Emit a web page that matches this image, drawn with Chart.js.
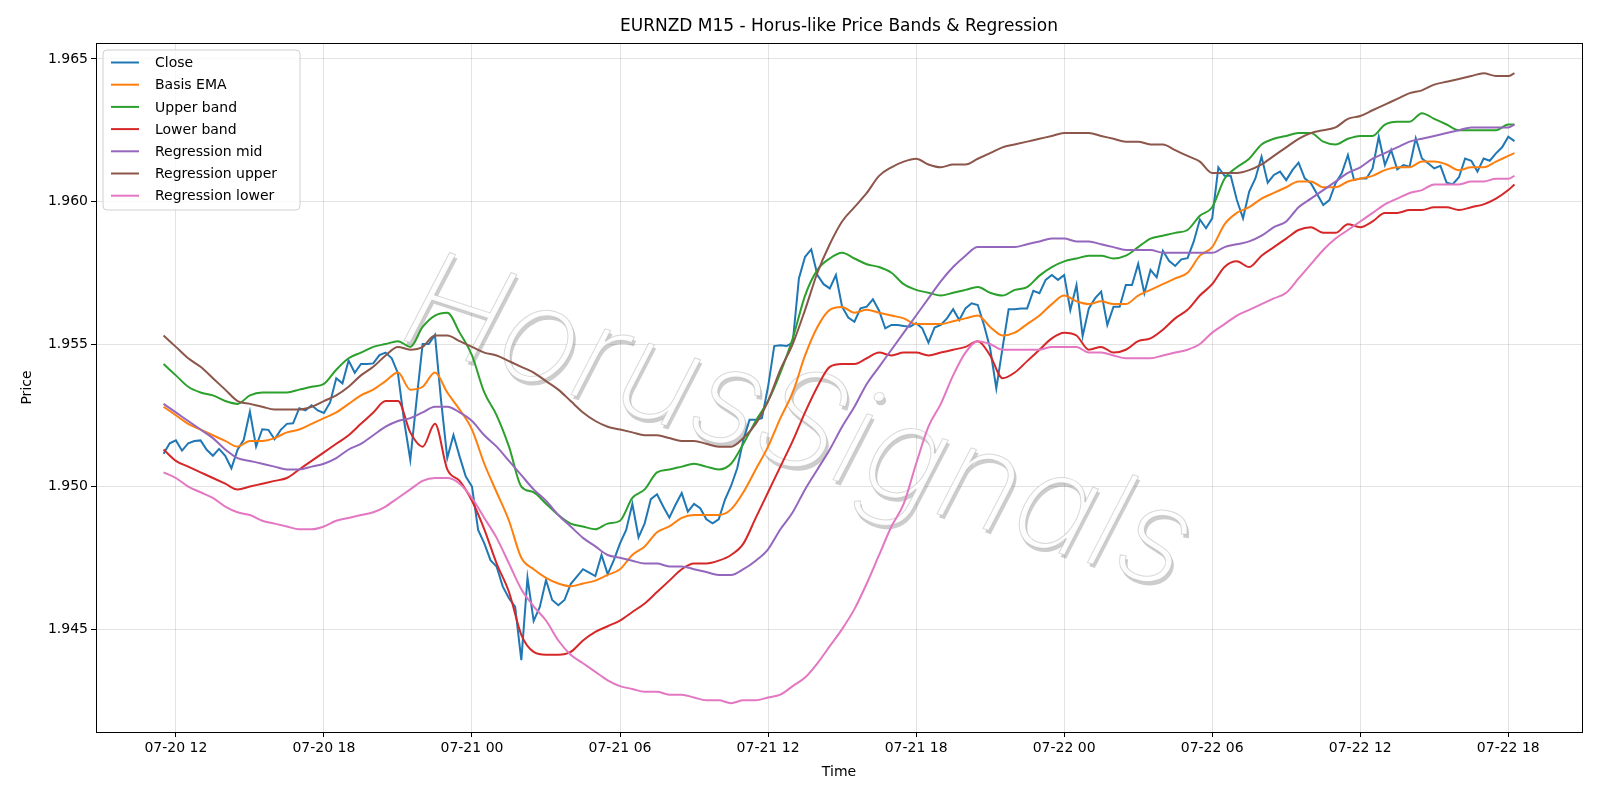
<!DOCTYPE html>
<html>
<head>
<meta charset="utf-8">
<script src="https://cdn.jsdelivr.net/npm/chart.js@4.4.1/dist/chart.umd.min.js"></script>
<style>
html, body { margin: 0; padding: 0; background: #fff; }
</style>
</head>
<body>
<canvas id="chart" width="1600" height="800"></canvas>
<script>
// time axis is in hours since 07-20 00:00
const FONT = '"DejaVu Sans", sans-serif';
const TITLE = 'EURNZD M15 - Horus-like Price Bands & Regression';
const WATERMARK = 'HorusSignals';

const xTickHours = [12, 18, 24, 30, 36, 42, 48, 54, 60, 66];
const xTickLabels = ['07-20 12', '07-20 18', '07-21 00', '07-21 06', '07-21 12',
                     '07-21 18', '07-22 00', '07-22 06', '07-22 12', '07-22 18'];
const yTicks = [1.945, 1.950, 1.955, 1.960, 1.965];

// M15 closes, first bar 07-20 11:30
const closeStart = 11.5;
const closeValues = [
  1.95115, 1.95152, 1.95162, 1.95126, 1.95152, 1.95160, 1.95162, 1.95129, 1.95108, 1.95132,
  1.95108, 1.95064, 1.95129, 1.95164, 1.95263, 1.95140, 1.95201, 1.95199, 1.95166, 1.95199,
  1.95220, 1.95222, 1.95275, 1.95267, 1.95285, 1.95267, 1.95258, 1.95295, 1.95380, 1.95362,
  1.95442, 1.95399, 1.95430, 1.95430, 1.95432, 1.95461, 1.95470, 1.95450, 1.95397, 1.95230,
  1.95094, 1.95300, 1.95500, 1.95500, 1.95532, 1.95300, 1.95100, 1.95181, 1.95105, 1.95035,
  1.95000, 1.94848, 1.94801, 1.94742, 1.94719, 1.94649, 1.94608, 1.94578, 1.94391, 1.94680,
  1.94529, 1.94578, 1.94672, 1.94602, 1.94584, 1.94602, 1.94658, 1.94684, 1.94710, 1.94698,
  1.94686, 1.94760, 1.94693, 1.94742, 1.94801, 1.94848, 1.94939, 1.94822, 1.94871, 1.94956,
  1.94973, 1.94930, 1.94891, 1.94936, 1.94977, 1.94912, 1.94939, 1.94924, 1.94885, 1.94871,
  1.94885, 1.94953, 1.95002, 1.95064, 1.95164, 1.95234, 1.95234, 1.95240, 1.95350, 1.95493,
  1.95496, 1.95493, 1.95505, 1.95730, 1.95806, 1.95832, 1.95742, 1.95710, 1.95695, 1.95742,
  1.95631, 1.95593, 1.95578, 1.95625, 1.95631, 1.95657, 1.95617, 1.95555, 1.95567, 1.95567,
  1.95563, 1.95561, 1.95573, 1.95555, 1.95505, 1.95558, 1.95567, 1.95590, 1.95622, 1.95584,
  1.95625, 1.95643, 1.95637, 1.95567, 1.95485, 1.95344, 1.95485, 1.95622, 1.95622, 1.95625,
  1.95625, 1.95687, 1.95678, 1.95725, 1.95742, 1.95725, 1.95742, 1.95619, 1.95707, 1.95528,
  1.95625, 1.95660, 1.95684, 1.95567, 1.95631, 1.95631, 1.95707, 1.95707, 1.95781, 1.95678,
  1.95760, 1.95734, 1.95827, 1.95792, 1.95774, 1.95797, 1.95801, 1.95859, 1.95937, 1.95906,
  1.95941, 1.96120, 1.96090, 1.96090, 1.96005, 1.95941, 1.96035, 1.96081, 1.96157, 1.96066,
  1.96093, 1.96105, 1.96075, 1.96110, 1.96136, 1.96081, 1.96064, 1.96026, 1.95988, 1.96005,
  1.96064, 1.96099, 1.96163, 1.96075, 1.96081, 1.96081, 1.96116, 1.96227, 1.96128, 1.96181,
  1.96113, 1.96128, 1.96122, 1.96222, 1.96151, 1.96134, 1.96116, 1.96125, 1.96066, 1.96061,
  1.96085, 1.96151, 1.96143, 1.96105, 1.96151, 1.96143, 1.96169, 1.96190, 1.96227, 1.96212
];

// band readings every 30 min from 11:30, plus the last bar at 18:15 on 07-22
const bandTimes = [];
for (let h = 11.5; h <= 66; h += 0.5) bandTimes.push(h);
bandTimes.push(66.25);

const basisEma = [
  1.9528, 1.9525, 1.9522, 1.9520, 1.9518, 1.9516, 1.9514, 1.9516, 1.9516, 1.9517,
  1.9519, 1.9520, 1.9522, 1.9524, 1.9526, 1.9529, 1.9532, 1.9534, 1.9537, 1.9540,
  1.9534, 1.9535, 1.9540, 1.9533, 1.9527, 1.9520, 1.9508, 1.9498, 1.9488, 1.9475,
  1.9471, 1.9468, 1.9466, 1.9465, 1.9466, 1.9467, 1.9469, 1.9471, 1.9476, 1.9479,
  1.9484, 1.9486, 1.9489, 1.9490, 1.9490, 1.9490, 1.9492, 1.9498, 1.9506, 1.9514,
  1.9524, 1.9533, 1.9546, 1.9556, 1.9562, 1.9563, 1.9561, 1.9562, 1.9561, 1.9560,
  1.9559, 1.9557, 1.9557, 1.9557, 1.9558, 1.9559, 1.9560, 1.9556, 1.9553, 1.9554,
  1.9557, 1.9560, 1.9564, 1.9567, 1.9565, 1.9564, 1.9565, 1.9564, 1.9564, 1.9567,
  1.9569, 1.9571, 1.9573, 1.9575, 1.9581, 1.9584, 1.9592, 1.9596, 1.9598, 1.9601,
  1.9603, 1.9605, 1.9607, 1.9607, 1.9605, 1.9605, 1.9607, 1.9608, 1.9609, 1.9611,
  1.9612, 1.9612, 1.9614, 1.9614, 1.9613, 1.9611, 1.9612, 1.9612, 1.9614, 1.9616,
  1.9617
];
const upperBand = [
  1.9543, 1.9539, 1.9535, 1.9533, 1.9532, 1.9530, 1.9529, 1.9532, 1.9533, 1.9533,
  1.9533, 1.9534, 1.9535, 1.9536, 1.9541, 1.9545, 1.9547, 1.9549, 1.9550, 1.9551,
  1.9549, 1.9556, 1.9560, 1.9561, 1.9554, 1.9546, 1.9533, 1.9525, 1.9514, 1.9500,
  1.9498, 1.9494, 1.9490, 1.9487, 1.9486, 1.9485, 1.9487, 1.9488, 1.9496, 1.9499,
  1.9505, 1.9506, 1.9507, 1.9508, 1.9507, 1.9506, 1.9508, 1.9515, 1.9523, 1.9530,
  1.9540, 1.9552, 1.9567, 1.9576, 1.9580, 1.9582, 1.9580, 1.9578, 1.9577, 1.9575,
  1.9571, 1.9569, 1.9568, 1.9567, 1.9568, 1.9569, 1.9570, 1.9568, 1.9567, 1.9569,
  1.9570, 1.9574, 1.9577, 1.9579, 1.9580, 1.9581, 1.9581, 1.9580, 1.9581, 1.9584,
  1.9587, 1.9588, 1.9589, 1.9590, 1.9595, 1.9598, 1.9608, 1.9612, 1.9615, 1.9620,
  1.9622, 1.9623, 1.9624, 1.9624, 1.9621, 1.9620, 1.9622, 1.9623, 1.9623, 1.9627,
  1.9628, 1.9628, 1.9631, 1.9629, 1.9627, 1.9625, 1.9625, 1.9625, 1.9625, 1.9627,
  1.9627
];
const lowerBand = [
  1.9513, 1.9509, 1.9507, 1.9505, 1.9503, 1.9501, 1.9499, 1.9500, 1.9501, 1.9502,
  1.9503, 1.9506, 1.9509, 1.9512, 1.9515, 1.9518, 1.9522, 1.9526, 1.9530, 1.9530,
  1.9519, 1.9514, 1.9522, 1.9506, 1.9502, 1.9495, 1.9485, 1.9473, 1.9463, 1.9448,
  1.9442, 1.9441, 1.9441, 1.9442, 1.9446, 1.9449, 1.9451, 1.9453, 1.9456, 1.9459,
  1.9463, 1.9467, 1.9471, 1.9473, 1.9473, 1.9474, 1.9476, 1.9480, 1.9489, 1.9498,
  1.9507, 1.9516, 1.9526, 1.9535, 1.9542, 1.9543, 1.9543, 1.9545, 1.9547, 1.9546,
  1.9547, 1.9547, 1.9546, 1.9547, 1.9548, 1.9549, 1.9551, 1.9546, 1.9538, 1.9540,
  1.9544, 1.9548, 1.9552, 1.9554, 1.9553, 1.9548, 1.9549, 1.9547, 1.9548, 1.9551,
  1.9552, 1.9555, 1.9559, 1.9562, 1.9567, 1.9571, 1.9577, 1.9579, 1.9577, 1.9581,
  1.9584, 1.9587, 1.9590, 1.9591, 1.9589, 1.9589, 1.9592, 1.9591, 1.9593, 1.9596,
  1.9596, 1.9597, 1.9597, 1.9598, 1.9598, 1.9597, 1.9598, 1.9599, 1.9601, 1.9604,
  1.9606
];
const regMid = [
  1.9529, 1.9526, 1.9523, 1.9520, 1.9517, 1.9513, 1.9510, 1.9509, 1.9508, 1.9507,
  1.9506, 1.9506, 1.9507, 1.9508, 1.9510, 1.9513, 1.9515, 1.9518, 1.9521, 1.9523,
  1.9524, 1.9526, 1.9528, 1.9528, 1.9526, 1.9523, 1.9518, 1.9514, 1.9509, 1.9504,
  1.9499, 1.9495, 1.9490, 1.9486, 1.9482, 1.9479, 1.9476, 1.9475, 1.9474, 1.9473,
  1.9473, 1.9472, 1.9472, 1.9471, 1.9470, 1.9469, 1.9469, 1.9471, 1.9474, 1.9478,
  1.9485, 1.9491, 1.9499, 1.9506, 1.9513, 1.9521, 1.9528, 1.9536, 1.9542, 1.9548,
  1.9554, 1.9560, 1.9566, 1.9572, 1.9577, 1.9581, 1.9584, 1.9584, 1.9584, 1.9584,
  1.9585, 1.9586, 1.9587, 1.9587, 1.9586, 1.9586, 1.9585, 1.9584, 1.9583, 1.9583,
  1.9583, 1.9582, 1.9582, 1.9582, 1.9582, 1.9582, 1.9584, 1.9585, 1.9586, 1.9588,
  1.9591, 1.9593, 1.9598, 1.9601, 1.9604, 1.9607, 1.9610, 1.9612, 1.9615, 1.9617,
  1.9619, 1.9621, 1.9622, 1.9623, 1.9624, 1.9625, 1.9626, 1.9626, 1.9626, 1.9626,
  1.9627
];
const regUpper = [
  1.9553, 1.9549, 1.9545, 1.9542, 1.9538, 1.9534, 1.9530, 1.9529, 1.9528, 1.9527,
  1.9527, 1.9527, 1.9528, 1.9530, 1.9532, 1.9535, 1.9539, 1.9542, 1.9546, 1.9549,
  1.9548, 1.9549, 1.9553, 1.9553, 1.9551, 1.9549, 1.9547, 1.9546, 1.9544, 1.9542,
  1.9540, 1.9537, 1.9534, 1.9530, 1.9526, 1.9523, 1.9521, 1.9520, 1.9519, 1.9518,
  1.9518, 1.9517, 1.9516, 1.9516, 1.9515, 1.9514, 1.9514, 1.9517, 1.9522, 1.9530,
  1.9541, 1.9550, 1.9562, 1.9575, 1.9585, 1.9593, 1.9598, 1.9603, 1.9609, 1.9612,
  1.9614, 1.9615, 1.9613, 1.9612, 1.9613, 1.9613, 1.9615, 1.9617, 1.9619, 1.9620,
  1.9621, 1.9622, 1.9623, 1.9624, 1.9624, 1.9624, 1.9623, 1.9622, 1.9621, 1.9621,
  1.9620, 1.9620, 1.9618, 1.9616, 1.9614, 1.9610, 1.9610, 1.9610, 1.9611, 1.9613,
  1.9616, 1.9619, 1.9622, 1.9624, 1.9625, 1.9626, 1.9629, 1.9630, 1.9632, 1.9634,
  1.9636, 1.9638, 1.9639, 1.9641, 1.9642, 1.9643, 1.9644, 1.9645, 1.9644, 1.9644,
  1.9645
];
const regLower = [
  1.9505, 1.9503, 1.9500, 1.9498, 1.9496, 1.9493, 1.9491, 1.9490, 1.9488, 1.9487,
  1.9486, 1.9485, 1.9485, 1.9486, 1.9488, 1.9489, 1.9490, 1.9491, 1.9493, 1.9496,
  1.9499, 1.9502, 1.9503, 1.9503, 1.9501, 1.9496, 1.9489, 1.9482, 1.9473, 1.9464,
  1.9458, 1.9453, 1.9446, 1.9441, 1.9438, 1.9435, 1.9432, 1.9430, 1.9429, 1.9428,
  1.9428, 1.9427, 1.9427, 1.9426, 1.9425, 1.9425, 1.9424, 1.9425, 1.9425, 1.9426,
  1.9427, 1.9430, 1.9433, 1.9438, 1.9444, 1.9450, 1.9457, 1.9466, 1.9476, 1.9486,
  1.9494, 1.9508, 1.9521, 1.9529, 1.9539, 1.9547, 1.9551, 1.9550, 1.9548, 1.9548,
  1.9548, 1.9548, 1.9549, 1.9549, 1.9549, 1.9547, 1.9547, 1.9546, 1.9545, 1.9545,
  1.9545, 1.9546, 1.9547, 1.9548, 1.9550, 1.9554, 1.9557, 1.9560, 1.9562, 1.9564,
  1.9566, 1.9568, 1.9573, 1.9578, 1.9583, 1.9587, 1.9590, 1.9593, 1.9596, 1.9599,
  1.9601, 1.9603, 1.9604, 1.9606, 1.9606, 1.9606, 1.9607, 1.9607, 1.9608, 1.9608,
  1.9609
];

const closeTimes = closeValues.map((_, i) => closeStart + i * 0.25);
const pts = (times, vals) => vals.map((v, i) => ({ x: times[i], y: v }));

function line(label, color, data, order, smooth) {
    return {
        label: label,
        data: data,
        borderColor: color,
        backgroundColor: color,
        borderWidth: 2,
        pointRadius: 0,
        fill: false,
        order: order,
        cubicInterpolationMode: smooth ? 'monotone' : 'default',
        tension: 0
    };
}

// frame, watermark, title and the in-axes legend
const decor = {
    id: 'decor',
    beforeDatasetsDraw(chart) {
        const ctx = chart.ctx;
        ctx.save();
        ctx.translate(798, 426);
        ctx.rotate(18 * Math.PI / 180);
        ctx.font = 'italic 200 134px Inter, "DejaVu Sans", sans-serif';
        ctx.textAlign = 'center';
        ctx.textBaseline = 'middle';
        ctx.fillStyle = 'rgba(90,90,90,0.30)';
        ctx.fillText(WATERMARK, 3, 3);
        ctx.fillStyle = 'rgba(255,255,255,0.95)';
        ctx.fillText(WATERMARK, 0, 0);
        ctx.strokeStyle = 'rgba(170,170,170,0.45)';
        ctx.lineWidth = 1;
        ctx.strokeText(WATERMARK, 0, 0);
        ctx.restore();
    },
    afterDatasetsDraw(chart) {
        const a = chart.chartArea, ctx = chart.ctx;
        ctx.save();
        ctx.strokeStyle = '#000';
        ctx.lineWidth = 1;
        ctx.strokeRect(Math.round(a.left) + 0.5, Math.round(a.top) + 0.5,
                       Math.round(a.right - a.left), Math.round(a.bottom - a.top));
        ctx.restore();
    },
    afterDraw(chart) {
        const a = chart.chartArea, ctx = chart.ctx;
        ctx.save();
        ctx.fillStyle = '#000';
        ctx.font = '17px ' + FONT;
        ctx.textAlign = 'center';
        ctx.textBaseline = 'middle';
        ctx.fillText(TITLE, (a.left + a.right) / 2, 27);

        // legend box
        const bx = a.left + 7, by = a.top + 7, bw = 197, bh = 160, r = 4;
        ctx.beginPath();
        ctx.moveTo(bx + r, by);
        ctx.arcTo(bx + bw, by, bx + bw, by + bh, r);
        ctx.arcTo(bx + bw, by + bh, bx, by + bh, r);
        ctx.arcTo(bx, by + bh, bx, by, r);
        ctx.arcTo(bx, by, bx + bw, by, r);
        ctx.closePath();
        ctx.fillStyle = 'rgba(255,255,255,0.8)';
        ctx.fill();
        ctx.strokeStyle = '#d0d0d0';
        ctx.lineWidth = 1;
        ctx.stroke();

        ctx.font = '14px ' + FONT;
        ctx.textAlign = 'left';
        chart.data.datasets.forEach((ds, i) => {
            const y = by + 12.5 + i * 22.2;
            ctx.strokeStyle = ds.borderColor;
            ctx.lineWidth = 2;
            ctx.beginPath();
            ctx.moveTo(bx + 8, y);
            ctx.lineTo(bx + 36, y);
            ctx.stroke();
            ctx.fillStyle = '#000';
            ctx.fillText(ds.label, bx + 52, y + 1);
        });
        ctx.restore();
    }
};

const gridOpts = {
    color: 'rgba(176,176,176,0.35)',
    lineWidth: 1,
    tickColor: '#000',
    tickLength: 5,
    tickWidth: 1
};

new Chart(document.getElementById('chart'), {
    type: 'line',
    data: {
        datasets: [
            line('Close', '#1f77b4', pts(closeTimes, closeValues), 7, false),
            line('Basis EMA', '#ff7f0e', pts(bandTimes, basisEma), 6, true),
            line('Upper band', '#2ca02c', pts(bandTimes, upperBand), 5, true),
            line('Lower band', '#d62728', pts(bandTimes, lowerBand), 4, true),
            line('Regression mid', '#9467bd', pts(bandTimes, regMid), 3, true),
            line('Regression upper', '#8c564b', pts(bandTimes, regUpper), 2, true),
            line('Regression lower', '#e377c2', pts(bandTimes, regLower), 1, true)
        ]
    },
    options: {
        responsive: false,
        devicePixelRatio: 1,
        animation: false,
        events: [],
        layout: { padding: { left: 0, right: 18, top: 43, bottom: 0 } },
        plugins: {
            legend: { display: false },
            title: { display: false },
            tooltip: { enabled: false }
        },
        scales: {
            x: {
                type: 'linear',
                min: 8.7625,
                max: 68.9875,
                afterBuildTicks: s => { s.ticks = xTickHours.map(v => ({ value: v })); },
                afterFit: s => { s.height = 68; s.paddingLeft = 0; s.paddingRight = 0; },
                ticks: {
                    autoSkip: false,
                    maxRotation: 0,
                    padding: 3,
                    color: '#000',
                    font: { family: FONT, size: 14 },
                    callback: v => xTickLabels[xTickHours.indexOf(v)]
                },
                grid: gridOpts,
                border: { display: false },
                title: {
                    display: true,
                    text: 'Time',
                    color: '#000',
                    font: { family: FONT, size: 14 },
                    padding: { top: 0, bottom: 19 }
                }
            },
            y: {
                min: 1.94139,
                max: 1.96556,
                afterBuildTicks: s => { s.ticks = yTicks.map(v => ({ value: v })); },
                afterFit: s => { s.width = 96; s.paddingTop = 0; s.paddingBottom = 0; },
                ticks: {
                    padding: 3,
                    color: '#000',
                    font: { family: FONT, size: 14 },
                    callback: v => v.toFixed(3)
                },
                grid: gridOpts,
                border: { display: false },
                title: {
                    display: true,
                    text: 'Price',
                    color: '#000',
                    font: { family: FONT, size: 14 },
                    padding: { top: 19, bottom: 0 }
                }
            }
        }
    },
    plugins: [decor]
});
</script>
</body>
</html>
